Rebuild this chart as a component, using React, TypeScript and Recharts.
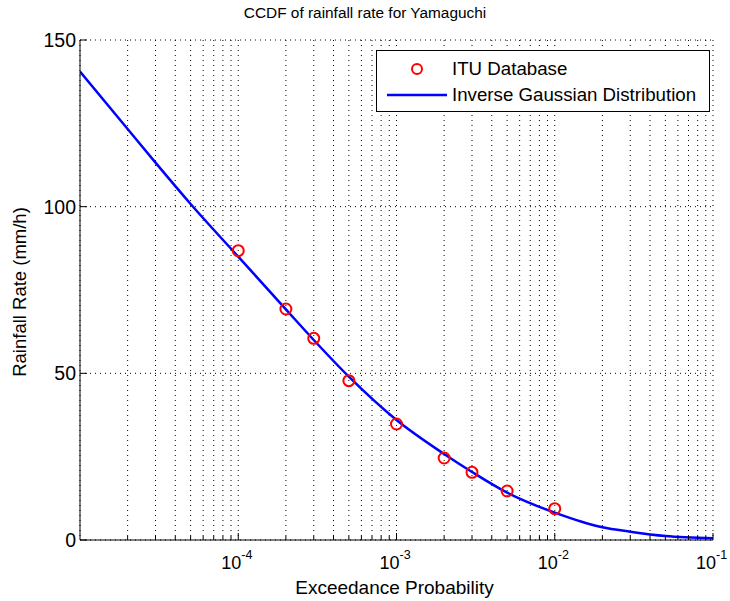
import React from 'react';
import { ComposedChart, Line, Scatter, XAxis, YAxis, CartesianGrid, Legend } from 'recharts';

const FONT = '"Liberation Sans", Arial, Helvetica, sans-serif';

// ITU database points (exceedance probability, rainfall rate mm/h)
const ituProbability = [1e-4, 2e-4, 3e-4, 5e-4, 1e-3, 2e-3, 3e-3, 5e-3, 1e-2];
const ituRainRate = [86.8, 69.3, 60.5, 47.8, 34.8, 24.6, 20.3, 14.7, 9.4];

// Inverse Gaussian fit curve
const fitProbability = [1e-5, 2e-5, 3e-5, 5e-5, 1e-4, 2e-4, 3e-4, 5e-4, 1e-3, 2e-3, 3e-3, 5e-3, 1e-2, 2e-2, 3e-2, 5e-2, 1e-1];
const fitRainRate = [140.5, 123.3, 113.2, 100.8, 85, 69.2, 60, 49, 36, 25.8, 20.4, 14.2, 8.2, 3.8, 2.5, 1.2, 0.5];

const seriesNames = ['ITU Database', 'Inverse Gaussian Distribution'];
const chartTitle = 'CCDF of rainfall rate for Yamaguchi';
const xAxisTitle = 'Exceedance Probability';
const yAxisTitle = 'Rainfall Rate (mm/h)';

const xDomain = [1e-5, 1e-1];
const yDomain = [0, 150];
const majorXTicks = [1e-4, 1e-3, 1e-2, 1e-1];
const majorXExponents = ['-4', '-3', '-2', '-1'];
const minorMultipliers = [2, 3, 4, 5, 6, 7, 8, 9];
const minorDecades = [1e-5, 1e-4, 1e-3, 1e-2];
const yTicks = [0, 50, 100, 150];

const minorXTicks = minorDecades.flatMap((d) => minorMultipliers.map((m) => m * d));
const allXTicks = [...minorXTicks, ...majorXTicks].sort((a, b) => a - b);

const ituData = ituProbability.map((x, i) => ({ x, y: ituRainRate[i] }));
const fitData = fitProbability.map((x, i) => ({ x, y: fitRainRate[i] }));

const majorIndex = (v: number) =>
  majorXTicks.findIndex((t) => Math.abs(Math.log10(t) - Math.log10(v)) < 1e-6);

const BottomTick = (props: any) => {
  const { x, y, payload } = props;
  const idx = majorIndex(payload.value);
  const major = idx >= 0;
  return (
    <g>
      <line x1={x} x2={x} y1={y} y2={y - (major ? 7 : 4)} stroke="#000" strokeWidth={1} />
      {major && (
        <text x={x - 17} y={y + 29} fontFamily={FONT} fontSize={18} fill="#000">
          10
          <tspan dy={-10} fontSize={12.5}>{majorXExponents[idx]}</tspan>
        </text>
      )}
    </g>
  );
};

const TopTick = (props: any) => {
  const { x, y, payload } = props;
  const major = majorIndex(payload.value) >= 0;
  return <line x1={x} x2={x} y1={y} y2={y + (major ? 7 : 4)} stroke="#000" strokeWidth={1} />;
};

const LeftTick = (props: any) => {
  const { x, y, payload } = props;
  return (
    <g>
      <line x1={x} x2={x + 7} y1={y} y2={y} stroke="#000" strokeWidth={1} />
      <text x={x - 4} y={y} dy="0.36em" textAnchor="end" fontFamily={FONT} fontSize={19.5} fill="#000">
        {payload.value}
      </text>
    </g>
  );
};

const RightTick = (props: any) => {
  const { x, y } = props;
  return <line x1={x} x2={x - 7} y1={y} y2={y} stroke="#000" strokeWidth={1} />;
};

const LegendContent = (props: any) => {
  const payload = props.payload || [];
  return (
    <div
      style={{
        width: 334,
        height: 62,
        border: '1px solid #000',
        background: '#fff',
        boxSizing: 'border-box',
        position: 'relative',
        fontFamily: FONT,
        fontSize: 18.7,
        color: '#000',
      }}
    >
      {payload.map((entry: any, i: number) => {
        const top = i === 0 ? 5 : 31;
        const isLine = entry.type === 'line' || entry.value === seriesNames[1];
        return (
          <div key={i} style={{ position: 'absolute', left: 0, top, height: 26, width: 334 }}>
            <svg width={72} height={26} style={{ position: 'absolute', left: 0, top: 0 }}>
              {isLine ? (
                <line x1={10} x2={70} y1={13} y2={13} stroke="#0000ff" strokeWidth={2.5} />
              ) : (
                <circle cx={40} cy={13} r={5} fill="none" stroke="#ff0000" strokeWidth={2} />
              )}
            </svg>
            <span style={{ position: 'absolute', left: 75, top: 2, lineHeight: '22px', whiteSpace: 'nowrap' }}>
              {entry.value}
            </span>
          </div>
        );
      })}
    </div>
  );
};

const circleShape = (p: any) => (
  <circle cx={p.cx} cy={p.cy} r={5.5} fill="none" stroke="#ff0000" strokeWidth={2} />
);

export default function App() {
  return (
    <div style={{ position: 'absolute', left: 0, top: 0, width: 730, height: 601, background: '#fff' }}>
      <div
        style={{
          position: 'absolute',
          left: 0,
          top: 3,
          width: 730,
          textAlign: 'center',
          fontFamily: FONT,
          fontSize: 15.4,
          lineHeight: '20px',
          color: '#000',
        }}
      >
        {chartTitle}
      </div>
      <ComposedChart
        width={730}
        height={601}
        margin={{ top: 40, right: 17, bottom: 0, left: 0 }}
        style={{ position: 'absolute', left: 0, top: 0 }}
      >
        <CartesianGrid stroke="#000" strokeDasharray="1 4" strokeWidth={1} />
        <XAxis
          dataKey="x"
          type="number"
          scale="log"
          domain={xDomain}
          allowDataOverflow
          ticks={allXTicks}
          interval={0}
          tickSize={0}
          tickMargin={0}
          tickLine={false}
          tick={<BottomTick />}
          height={61}
          axisLine={{ stroke: '#000' }}
          label={{
            content: (lp: any) => {
              const vb = lp.viewBox || { x: 80, y: 540, width: 633 };
              return (
                <text x={vb.x + vb.width / 2 - 2} y={594} textAnchor="middle" fontFamily={FONT} fontSize={19} fill="#000">
                  {xAxisTitle}
                </text>
              );
            },
          }}
        />
        <XAxis
          xAxisId="top"
          orientation="top"
          dataKey="x"
          type="number"
          scale="log"
          domain={xDomain}
          allowDataOverflow
          ticks={allXTicks}
          interval={0}
          tickSize={0}
          tickMargin={0}
          tickLine={false}
          tick={<TopTick />}
          height={0}
          axisLine={{ stroke: '#000' }}
        />
        <YAxis
          dataKey="y"
          type="number"
          domain={yDomain}
          allowDataOverflow
          ticks={yTicks}
          interval={0}
          tickSize={0}
          tickMargin={0}
          tickLine={false}
          tick={<LeftTick />}
          width={80}
          axisLine={{ stroke: '#000' }}
          label={{
            content: () => (
              <text
                x={26}
                y={292}
                transform="rotate(-90, 26, 292)"
                textAnchor="middle"
                fontFamily={FONT}
                fontSize={18.5}
                fill="#000"
              >
                {yAxisTitle}
              </text>
            ),
          }}
        />
        <YAxis
          yAxisId="right"
          orientation="right"
          type="number"
          domain={yDomain}
          allowDataOverflow
          ticks={yTicks}
          interval={0}
          tickSize={0}
          tickMargin={0}
          tickLine={false}
          tick={<RightTick />}
          width={0}
          axisLine={{ stroke: '#000' }}
        />
        <Scatter
          name={seriesNames[0]}
          data={ituData}
          dataKey="y"
          shape={circleShape}
          legendType="circle"
          isAnimationActive={false}
        />
        <Line
          name={seriesNames[1]}
          data={fitData}
          dataKey="y"
          type="monotone"
          stroke="#0000ff"
          strokeWidth={2.5}
          dot={false}
          activeDot={false}
          legendType="line"
          isAnimationActive={false}
        />
        <Legend
          layout="horizontal"
          verticalAlign="middle"
          align="center"
          content={<LegendContent />}
          wrapperStyle={{ position: 'absolute', left: 376, top: 50, width: 334, height: 62 }}
        />
      </ComposedChart>
    </div>
  );
}
